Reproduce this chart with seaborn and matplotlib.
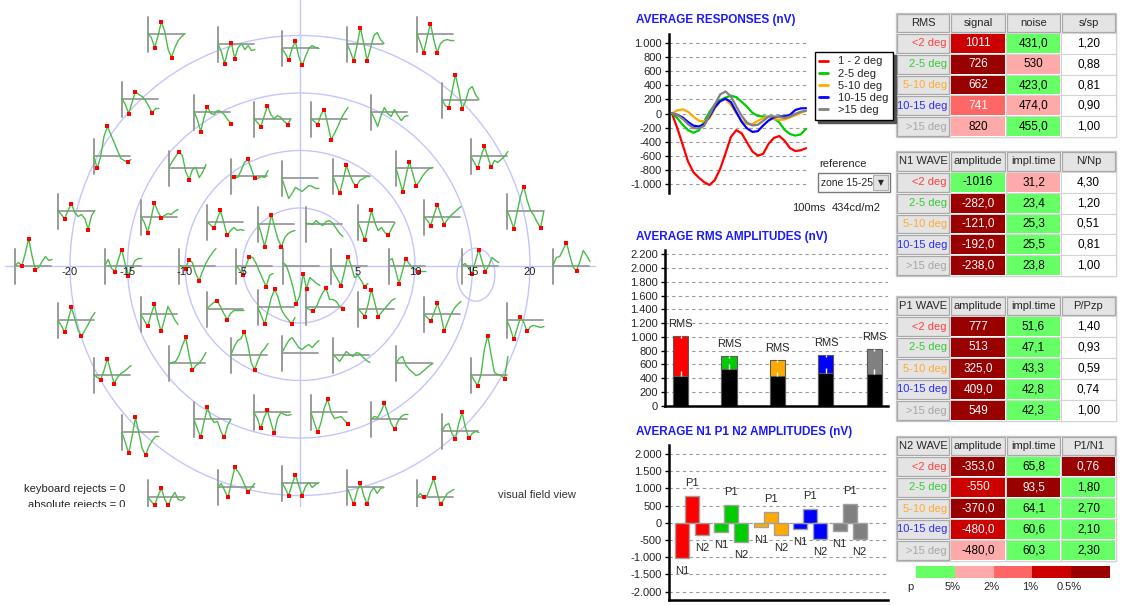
import numpy as np
import pandas as pd
import matplotlib
matplotlib.use("Agg")
import matplotlib.pyplot as plt
from matplotlib.patches import Rectangle, Circle, Ellipse
from matplotlib.lines import Line2D
from matplotlib.ticker import FuncFormatter, MultipleLocator
import seaborn as sns

# ---------------------------------------------------------------- data
ZONE_NAMES = ["1 - 2 deg", "2-5 deg", "5-10 deg", "10-15 deg", ">15 deg"]
ROW_NAMES = ["<2 deg", "2-5 deg", "5-10 deg", "10-15 deg", ">15 deg"]
ZONE_COLORS = ["#ff0000", "#00cc00", "#ffaa00", "#0000ff", "#808080"]
ROW_NAME_COLORS = ["#ff4040", "#33cc33", "#ffaa33", "#2b2bff", "#a6a6a6"]

# average responses per zone (nV), sampled every 4 ms
TIME_MS = list(range(0, 101, 4))
RESP_1_2 = [0, -207, -442, -678, -830, -905, -970, -1010, -940, -780, -560, -330, -235,
            -280, -410, -536, -595, -570, -430, -345, -318, -385, -489, -530, -520, -490]
RESP_2_5 = [0, -66, -160, -235, -272, -240, -113, 20, 130, 190, 225, 252, 230,
            165, 95, 10, -35, -42, -48, -70, -125, -231, -290, -312, -295, -216]
RESP_5_10 = [0, 45, 58, 25, -45, -100, -113, -66, 75, 175, 200, 122, 0,
             -100, -150, -150, -105, -66, -45, -75, -90, -85, -56, -25, 10, 38]
RESP_10_15 = [0, -19, -56, -120, -172, -184, -155, -42, 90, 175, 210, 160, 20,
              -120, -210, -260, -250, -169, -100, -55, -42, -40, -19, 50, 72, 75]
RESP_15_UP = [0, -19, -75, -150, -205, -212, -175, -19, 130, 270, 311, 240, 99,
              -35, -130, -168, -160, -105, -42, -40, -50, -62, -42, -5, 25, 38]

RMS_SIGNAL = [1011, 726, 662, 741, 820]
RMS_NOISE = [431, 530, 423, 474, 455]
N1_AMP = [-1016, -282, -121, -192, -238]
P1_AMP = [777, 513, 325, 409, 549]
N2_AMP = [-353, -550, -370, -480, -480]

# tables: header, displayed values per column, significance class per cell
# class: 0 none, 1 n.s., 2 p<5%, 3 p<2%, 4 p<1%, 5 p<0.5%
RMS_HEADER = ["RMS", "signal", "noise", "s/sp"]
RMS_TEXT = [["1011", "726", "662", "741", "820"],
            ["431,0", "530", "423,0", "474,0", "455,0"],
            ["1,20", "0,88", "0,81", "0,90", "1,00"]]
RMS_P = [[4, 5, 5, 3, 2], [1, 2, 1, 2, 1], [0, 0, 0, 0, 0]]

N1_HEADER = ["N1 WAVE", "amplitude", "impl.time", "N/Np"]
N1_TEXT = [["-1016", "-282,0", "-121,0", "-192,0", "-238,0"],
           ["31,2", "23,4", "25,3", "25,5", "23,8"],
           ["4,30", "1,20", "0,51", "0,81", "1,00"]]
N1_P = [[1, 5, 5, 5, 5], [2, 1, 1, 1, 1], [0, 0, 0, 0, 0]]

P1_HEADER = ["P1 WAVE", "amplitude", "impl.time", "P/Pzp"]
P1_TEXT = [["777", "513", "325,0", "409,0", "549"],
           ["51,6", "47,1", "43,3", "42,8", "42,3"],
           ["1,40", "0,93", "0,59", "0,74", "1,00"]]
P1_P = [[5, 5, 5, 5, 5], [1, 1, 1, 1, 1], [0, 0, 0, 0, 0]]

N2_HEADER = ["N2 WAVE", "amplitude", "impl.time", "P1/N1"]
N2_TEXT = [["-353,0", "-550", "-370,0", "-480,0", "-480,0"],
           ["65,8", "93,5", "64,1", "60,6", "60,3"],
           ["0,76", "1,80", "2,70", "2,10", "2,30"]]
N2_P = [[5, 4, 5, 4, 2], [1, 5, 1, 1, 1], [5, 1, 1, 1, 1]]

P_COLORS = ["#ffffff", "#66ff66", "#ffaaaa", "#ff6666", "#cc0000", "#990000"]
P_LEVELS = ["5%", "2%", "1%", "0.5%"]

# hexagon centres of the 61 stimulus elements (deg of visual field), row by row
ROW_X = [
    [-11.65, -5.57, 0.0, 5.65, 11.74],
    [-13.91, -7.65, -2.43, 2.52, 7.74, 13.91],
    [-16.35, -9.83, -4.43, 0.0, 4.43, 9.91, 16.43],
    [-19.48, -12.26, -6.52, -2.09, 2.09, 6.61, 12.35, 19.57],
    [-23.2, -15.4, -8.96, -4.0, 0.09, 4.26, 9.3, 15.65, 23.57],
]
ROW_Y = [
    [20.17, 19.30, 18.87, 19.30, 20.17],
    [14.52, 13.39, 12.78, 12.78, 13.39, 14.43],
    [9.48, 8.52, 7.74, 7.57, 7.74, 8.52, 9.48],
    [4.78, 4.26, 3.74, 3.65, 3.65, 3.74, 4.26, 4.78],
    [0, 0, 0, 0, 0, 0, 0, 0, 0],
]
FIELD_X = ROW_X + ROW_X[3::-1]
FIELD_Y = ROW_Y + [[-v for v in r] for r in ROW_Y[3::-1]]

# local responses (display units), 12 samples per element
FIELD_WAVES = [
    [0, -4, -14, -2, 12, 2, -16, -24, -14, -7, -3, 0],
    [0, -8, -20, -6, 1, -15, -4, 0, -6, -2, -7, -6],
    [0, -5, -12, 0, 7, -8, -17, -8, 0, 3, 1, 0],
    [0, -8, -17, -2, 16, 0, -17, -5, 8, 11, 4, 0],
    [0, -9, -19, -4, 10, -6, -19, -10, -7, -6, -7, -7],
    [0, -6, -15, -4, 7, 4, 2, -2, -8, -14, -10, -10],
    [0, -8, -20, -6, 5, -2, -3, 1, 0, -3, -8, -12],
    [0, -4, -8, 2, 13, 4, 0, 3, 1, -3, -6, 0],
    [0, -3, -6, 4, 9, -6, -21, -15, -8, 0, 6, 11],
    [0, -7, -15, -4, 4, -2, -5, 2, -4, -9, -5, -4],
    [0, -6, -8, 8, 25, 10, -9, -2, 10, 13, 5, 0],
    [0, -12, 0, 20, 30, 22, 14, 6, -2, -4, -6, -3],
    [0, 6, 11, 16, 12, -4, -12, -2, 0, -10, -5, 3],
    [0, -1, -1, 6, 14, 17, 8, -2, -2, 0, -1, 6],
    [0, -10, -20, -15, -9, -11, -13, -10, -7, -8, -10, -10],
    [0, -8, -17, -4, 11, 2, -6, -10, -4, -2, 0, 0],
    [0, -12, -24, -8, 6, -6, -18, -14, -8, -4, -1, 0],
    [0, -6, -12, 0, 10, 0, -11, -4, -6, -3, 0, 5],
    [0, -4, -8, 0, 7, -2, -6, -4, -8, -19, -5, 0],
    [0, -6, -16, -2, 14, 5, -1, 1, 3, 2, 5, 7],
    [0, -2, -6, 3, 12, 0, -13, -8, -5, -8, -7, -8],
    [0, -10, -23, -8, 9, -4, -16, -23, -14, -10, -8, -7],
    [0, 0, -1, 3, 0, -2, 2, 3, 0, -5, -10, -13],
    [0, -8, -18, -3, 12, 0, -8, -5, -10, -13, -6, 0],
    [0, -4, -9, 2, 12, 2, -8, -3, 1, 4, 7, 10],
    [0, -8, -18, -2, 14, 24, 10, 0, -5, -12, -17, 0],
    [0, 3, 0, 12, 27, 10, -4, -2, 4, 9, 5, 6],
    [0, 6, -3, -6, 6, 16, 2, -10, -2, 5, 7, 7],
    [0, -1, -3, 6, 3, -8, -15, -6, 2, 8, 13, 17],
    [0, -4, -9, 0, 9, 8, 2, -6, -14, -21, -10, -8],
    [3, 0, -10, -22, -38, -30, -8, -23, -12, -15, -18, -20],
    [0, -8, -14, -20, -6, 9, 0, -12, -10, -15, -21, -18],
    [5, 7, -5, -18, -6, 7, 2, -2, -4, -6, -6, -6],
    [0, 2, -3, -8, 4, 16, 4, -6, 0, 8, 5, 3],
    [0, 8, 9, 16, 23, 10, -2, -5, 4, 15, 10, 4],
    [0, -5, -12, 0, 13, 2, -10, -16, -10, -4, 3, 8],
    [0, -6, -12, 0, 10, -5, -17, -5, 8, 2, -5, -10],
    [0, 3, 6, 8, 2, -5, -11, -5, -2, -2, -2, -2],
    [0, -8, -17, -3, 10, 18, 10, -2, -8, -12, -17, -10],
    [0, -2, -4, 0, 8, 15, 19, 8, 8, 6, 1, -2],
    [0, -4, -8, 4, 19, 6, -8, -4, 0, 4, 8, 10],
    [0, -3, -7, 2, 11, 0, -17, -8, 0, 6, 10, 13],
    [0, -8, -19, -8, 3, -2, -11, -6, -5, -6, -7, -6],
    [0, -3, -5, 4, 16, 3, -9, -3, 1, 3, 6, 9],
    [0, 1, 2, 8, 18, 26, 8, -7, -2, 0, 5, 11],
    [0, 8, 14, 16, 23, 10, -8, -15, -6, 2, 6, 11],
    [0, 6, 12, 15, 10, 5, 3, 6, 8, 5, 9, 12],
    [0, -3, -7, -2, 3, 0, -2, 2, 1, -3, -6, -8],
    [0, 5, 7, -2, -6, -9, -12, -11, -8, -5, -2, 0],
    [0, -6, -11, 0, 25, 39, 20, 2, 0, -1, -4, 18],
    [0, -10, -21, -4, 15, 0, -16, -23, -14, -8, -4, -4],
    [0, -9, -18, -2, 12, 2, -3, -2, -12, -18, -6, 0],
    [0, -6, -16, -5, 2, -10, -21, -6, 0, -2, -3, -2],
    [0, -10, -20, -10, 5, 13, 0, -6, -5, -4, -8, -12],
    [0, 3, 2, 8, 16, 6, -4, -10, -2, 3, 5, 5],
    [0, 6, 8, -2, -8, 8, 19, 4, -7, -2, 0, -1],
    [0, -4, -8, 2, 9, -2, -8, 0, 5, -2, -3, 0],
    [0, 4, -3, -10, 5, 20, 16, 10, 2, -5, 0, 4],
    [0, -6, -13, -2, 8, -3, -13, -4, 0, -5, -2, 0],
    [0, -8, -17, -4, 4, -8, -17, -5, 0, -6, -1, 0],
    [0, 4, 0, 2, 10, 19, 5, -7, -2, 4, 6, 8],
]
# elements whose peaks were not marked
UNMARKED = {9, 14, 22, 46, 47, 48}

AXIS_DEG = [-20, -15, -10, -5, 5, 10, 15, 20]
RING_DEG = [5, 10, 15, 20]

# ---------------------------------------------------------------- figure
sns.set_theme(style="white")
plt.rcParams["font.family"] = ["Liberation Sans", "DejaVu Sans"]

W, H = 1123, 605
fig = plt.figure(figsize=(W / 100, H / 100), dpi=100)
fig.patch.set_facecolor("white")


def px_axes(x0, y0, x1, y1, **kw):
    return fig.add_axes([x0 / W, 1 - y1 / H, (x1 - x0) / W, (y1 - y0) / H], **kw)


# overlay in pixel units for titles, tables and captions
ov = px_axes(0, 0, W, H, zorder=0)
ov.set_xlim(0, W)
ov.set_ylim(H, 0)
ov.set_axis_off()

TITLE_KW = dict(color="#1a1aff", fontsize=8.5, fontweight="bold", ha="left", va="center")
ov.text(636, 20, "AVERAGE RESPONSES (nV)", **TITLE_KW)
ov.text(636, 237, "AVERAGE RMS AMPLITUDES (nV)", **TITLE_KW)
ov.text(636, 432, "AVERAGE N1 P1 N2 AMPLITUDES (nV)", **TITLE_KW)

thousands = FuncFormatter(lambda v, _: f"{v:,.0f}".replace(",", "."))


def value_axis(ax, lo, hi, step):
    ax.set_ylim(lo, hi)
    ax.yaxis.set_major_locator(MultipleLocator(step))
    ax.yaxis.set_major_formatter(thousands)
    ax.grid(axis="y", ls=(0, (3, 3)), color="#9a9a9a", lw=0.8)
    ax.grid(axis="x", visible=False)
    ax.set_axisbelow(True)
    ax.tick_params(axis="y", labelsize=8, length=3, width=1, color="black", pad=2, left=True)
    ax.tick_params(axis="x", length=0, labelbottom=False)
    ax.set_xlabel("")
    ax.set_ylabel("")
    for s in ax.spines.values():
        s.set_color("black")
        s.set_linewidth(1.8)
    ax.set_facecolor("white")


# ---------------------------------------------------------------- average responses
ax1 = px_axes(669, 34, 807, 193, zorder=2)
resp = pd.DataFrame({
    "time": TIME_MS * 5,
    "nV": RESP_1_2 + RESP_2_5 + RESP_5_10 + RESP_10_15 + RESP_15_UP,
    "zone": [z for z in ZONE_NAMES for _ in TIME_MS],
})
sns.lineplot(data=resp, x="time", y="nV", hue="zone", hue_order=ZONE_NAMES,
             palette=ZONE_COLORS, lw=1.6, legend=False, ax=ax1)
ax1.set_xlim(-2.2, 100.7)
value_axis(ax1, -1123, 1123, 200)
sns.despine(ax=ax1, top=True, right=True, bottom=True)
handles = [Line2D([], [], color=c, lw=2) for c in ZONE_COLORS]
leg = ax1.legend(handles, ZONE_NAMES, loc="upper left", bbox_to_anchor=(1.058, 0.887),
                 fontsize=8, frameon=True, fancybox=False, edgecolor="black", framealpha=1,
                 handlelength=0.8, handletextpad=0.9, labelspacing=0.2, borderpad=0.4,
                 borderaxespad=0, shadow={"color": "#555555", "alpha": 1})
leg.get_frame().set_linewidth(1.0)

ov.text(843, 164, "reference", fontsize=8, ha="center", va="center")
ov.add_patch(Rectangle((818, 173), 72, 19, facecolor="white", edgecolor="#7a7a7a", lw=1))
ov.add_patch(Rectangle((873, 175), 15, 15, facecolor="#e2e2e2", edgecolor="#b0b0b0", lw=0.8))
ov.text(880.5, 182.5, "\u25BC", fontsize=5.5, ha="center", va="center",
        family=["DejaVu Sans"])
ov.text(821, 182.5, "zone 15-25", fontsize=7.5, ha="left", va="center")
ov.text(792, 208, "100ms", fontsize=8, ha="left", va="center")
ov.text(832, 208, "434cd/m2", fontsize=8, ha="left", va="center")

# ---------------------------------------------------------------- RMS bars
ax2 = px_axes(665, 250, 888, 405.5, zorder=2)
sns.barplot(x=ROW_NAMES, y=RMS_SIGNAL, hue=ROW_NAMES, palette=ZONE_COLORS, legend=False,
            width=0.31, saturation=1, errorbar=None, edgecolor="#5a5a5a", linewidth=0.8, ax=ax2)
sns.barplot(x=ROW_NAMES, y=RMS_NOISE, color="black", width=0.31, saturation=1,
            errorbar=None, edgecolor="#5a5a5a", linewidth=0.8, ax=ax2)
for i, (s, n) in enumerate(zip(RMS_SIGNAL, RMS_NOISE)):
    ax2.vlines(i, n, n + 70, color="white", lw=1, zorder=5)
    ax2.vlines(i, s - 30, s, color="white", lw=1, zorder=5)
    ax2.text(i, s + 175, "RMS", ha="center", va="center", fontsize=8)
ax2.set_xlim(-0.32, 4.28)
value_axis(ax2, 0, 2265, 200)
sns.despine(ax=ax2, top=True, right=True)

# ---------------------------------------------------------------- N1 P1 N2 bars
ax3 = px_axes(669, 445, 888, 600, zorder=2)
groups = np.arange(len(ROW_NAMES))
bw, step = 0.355, 0.255
for k, (vals, name, below) in enumerate([(N1_AMP, "N1", True), (P1_AMP, "P1", False),
                                        (N2_AMP, "N2", True)]):
    xs = groups + k * step
    ax3.bar(xs, vals, width=bw, color=ZONE_COLORS, edgecolor="#a0a0a0", linewidth=1, zorder=3)
    for x, v in zip(xs, vals):
        ax3.text(x, v - 378 if below else v + 378, name, ha="center", va="center", fontsize=8)
ax3.set_xlim(-0.33, 5.23)
value_axis(ax3, -2247, 2259, 500)
sns.despine(ax=ax3, top=True, right=True)

# ---------------------------------------------------------------- tables
COL_EDGES = [896, 950, 1006, 1061, 1116]


def draw_table(top, header, texts, classes, head_h=20, row_h=20.8):
    rows = [top, top + head_h] + [top + head_h + row_h * (r + 1) for r in range(5)]
    ov.add_patch(Rectangle((COL_EDGES[0], top), COL_EDGES[-1] - COL_EDGES[0], rows[-1] - top,
                           facecolor="white", edgecolor="#c8c8c8", lw=1))
    for c in range(4):
        x0, x1 = COL_EDGES[c], COL_EDGES[c + 1]
        ov.add_patch(Rectangle((x0 + 1, top + 1), x1 - x0 - 2, head_h - 2,
                               facecolor="#e4e4e4", edgecolor="#a8a8a8", lw=0.9))
        ov.text((x0 + x1) / 2, top + head_h / 2, header[c], fontsize=8, ha="center", va="center")
    for r in range(5):
        y0, y1 = rows[r + 1], rows[r + 2]
        ov.add_patch(Rectangle((COL_EDGES[0] + 1, y0 + 1), COL_EDGES[1] - COL_EDGES[0] - 2,
                               y1 - y0 - 2, facecolor="#e4e4e4", edgecolor="#a8a8a8", lw=0.9))
        ov.text(COL_EDGES[1] - 3, (y0 + y1) / 2, ROW_NAMES[r], color=ROW_NAME_COLORS[r],
                fontsize=8, ha="right", va="center")
        for c in range(3):
            x0, x1 = COL_EDGES[c + 1], COL_EDGES[c + 2]
            cls = classes[c][r]
            ov.add_patch(Rectangle((x0, y0), x1 - x0, y1 - y0, facecolor="white",
                                   edgecolor="#d4d4d4", lw=0.8))
            if cls:
                ov.add_patch(Rectangle((x0 + 1, y0 + 1), x1 - x0 - 2, y1 - y0 - 2,
                                       facecolor=P_COLORS[cls], edgecolor="none"))
            ov.text((x0 + x1) / 2, (y0 + y1) / 2, texts[c][r], fontsize=8.5,
                    color="white" if cls >= 3 else "black", ha="center", va="center")


draw_table(13, RMS_HEADER, RMS_TEXT, RMS_P)
draw_table(151, N1_HEADER, N1_TEXT, N1_P, head_h=21)
draw_table(296, P1_HEADER, P1_TEXT, P1_P, row_h=21)
draw_table(436, N2_HEADER, N2_TEXT, N2_P, row_h=21)

seg = (1110 - 916) / 5
for i, col in enumerate(P_COLORS[1:]):
    ov.add_patch(Rectangle((916 + i * seg, 566), seg, 12, facecolor=col, edgecolor="none"))
ov.text(910, 587, "p", fontsize=8, ha="center", va="center")
for i, lab in enumerate(P_LEVELS):
    ov.text(916 + (i + 1) * seg - 2, 587, lab, fontsize=8, ha="center", va="center")

# ---------------------------------------------------------------- visual field trace array
PX = 11.5           # display pixels per degree
ORIGIN_Y = 265.5
axf = px_axes(0, 0, 600, 507, zorder=1)
axf.set_xlim(-300 / PX, 300 / PX)
axf.set_ylim((ORIGIN_Y - 507) / PX, ORIGIN_Y / PX)
axf.set_axis_off()

ring_col = "#c4c4ff"
axf.plot([-295 / PX, 295 / PX], [0, 0], color=ring_col, lw=1, zorder=1)
axf.plot([0, 0], [(ORIGIN_Y - 507) / PX, ORIGIN_Y / PX], color=ring_col, lw=1, zorder=1)
for r in RING_DEG:
    axf.add_patch(Circle((0, 0), r, fill=False, edgecolor=ring_col, lw=1, zorder=1))
axf.add_patch(Ellipse((15.3, -0.8), 3.3, 4.6, fill=False, edgecolor=ring_col, lw=1, zorder=1))
for d in AXIS_DEG:
    axf.text(d, -0.6, str(d), fontsize=8, ha="center", va="center", color="#222222", zorder=6)

half = 1.57
step_x = np.linspace(0, 37, 12) / PX
frames, marks = [], []
k = 0
for xs_row, ys_row in zip(FIELD_X, FIELD_Y):
    for cx, cy in zip(xs_row, ys_row):
        wave = np.array(FIELD_WAVES[k], dtype=float)
        x0 = cx - half
        axf.plot([x0, x0], [cy - 18 / PX, cy + 17 / PX], color="#9a9a9a", lw=1.4, zorder=2)
        axf.plot([x0, x0 + 36 / PX], [cy, cy], color="#9a9a9a", lw=1.3, zorder=2)
        xs = x0 + step_x
        ys = cy + wave / PX
        frames.append(pd.DataFrame({"x": xs, "y": ys, "element": k}))
        if k not in UNMARKED:
            p1 = 2 + int(np.argmax(wave[2:9]))
            idx = [p1, p1 + 1 + int(np.argmin(wave[p1 + 1:]))]
            n1 = 1 + int(np.argmin(wave[1:p1]))
            if wave[n1] <= 0:
                idx.append(n1)
            marks.extend((xs[i], ys[i]) for i in idx)
        k += 1

traces = pd.concat(frames, ignore_index=True)
sns.lineplot(data=traces, x="x", y="y", units="element", estimator=None, sort=False,
             color="#4cbb4c", lw=1.0, ax=axf, zorder=3)
mx, my = zip(*marks)
axf.scatter(mx, my, marker="s", s=7, color="#ff0000", linewidths=0, zorder=4)
axf.set_xlim(-300 / PX, 300 / PX)
axf.set_ylim((ORIGIN_Y - 507) / PX, ORIGIN_Y / PX)
axf.set_aspect("equal")

for txt, ypx in [("keyboard rejects = 0", 489), ("absolute rejects = 0", 505)]:
    axf.text((125 - 300) / PX, (ORIGIN_Y - ypx) / PX, txt, fontsize=8, ha="right",
             va="center", color="#222222", clip_on=True)
axf.text((498 - 300) / PX, (ORIGIN_Y - 495) / PX, "visual field view", fontsize=8,
         ha="left", va="center", color="#333333")

fig.savefig("out.png", dpi=100)
